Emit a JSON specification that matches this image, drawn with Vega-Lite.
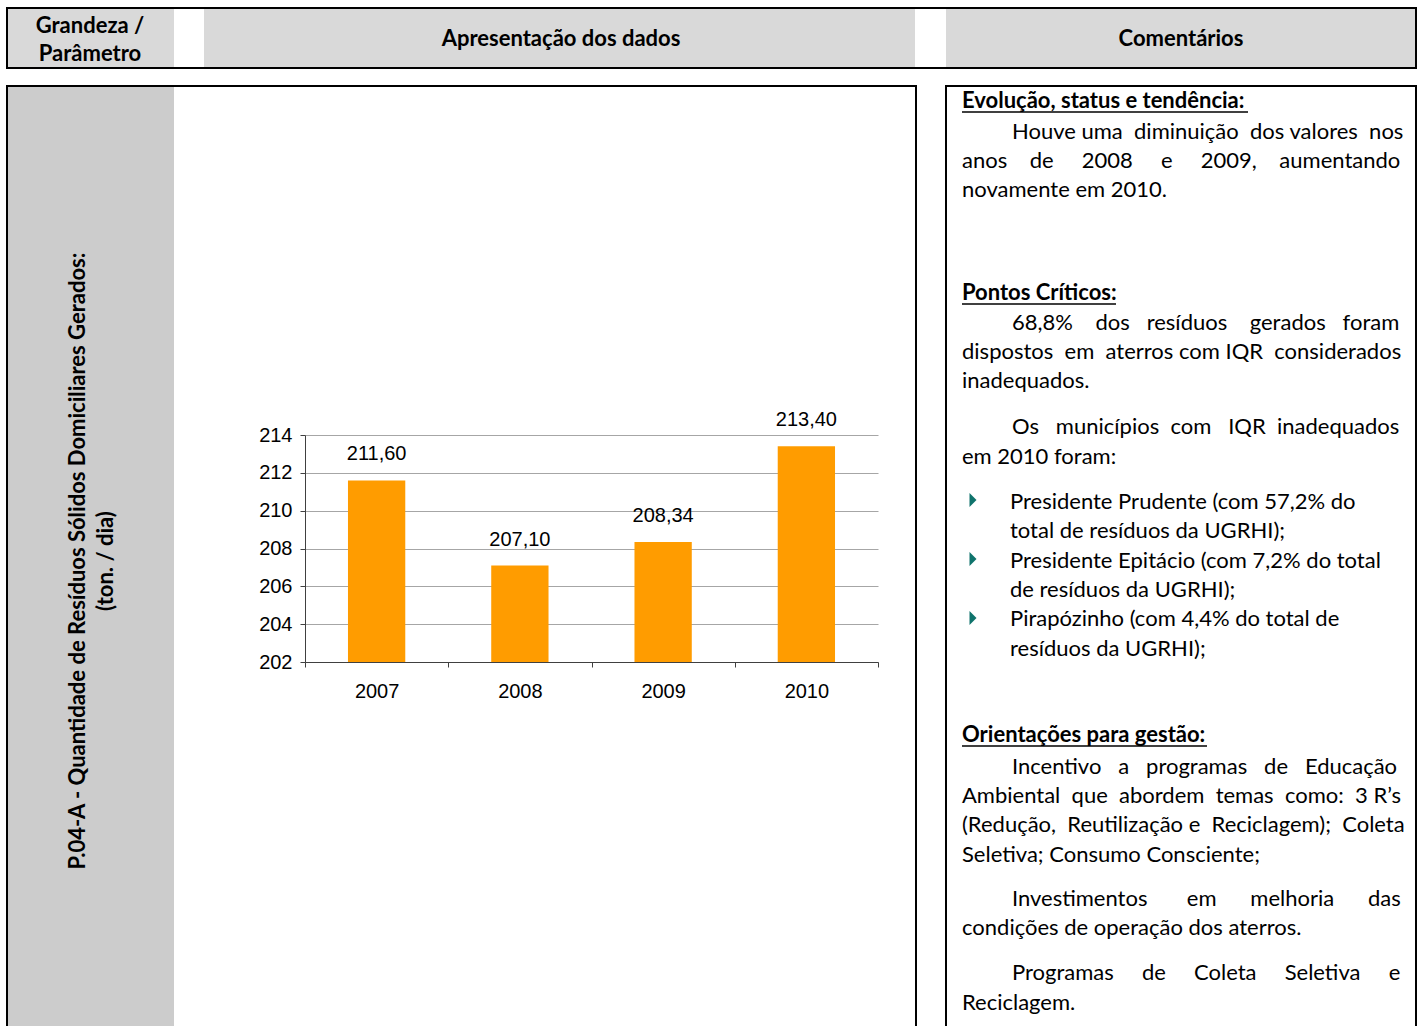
{
  "$schema": "https://vega.github.io/schema/vega-lite/v6.json",
  "width": 1421,
  "height": 1026,
  "autosize": {"type": "none"},
  "padding": 0,
  "background": "white",
  "config": {
    "view": {"stroke": null},
    "locale": {"number": {"decimal": ",", "thousands": ".", "grouping": [3], "currency": ["R$", ""]}},
    "text": {"font": "Lato", "fontSize": 22, "color": "black", "baseline": "alphabetic", "align": "left", "lineHeight": 29.3, "lineBreak": "\n"}
  },
  "layer": [
    {"data": {"values": [{}]}, "mark": {"type": "rect", "fill": "#D9D9D9"}, "encoding": {"x": {"value": 8}, "x2": {"value": 174}, "y": {"value": 9}, "y2": {"value": 67}}},
    {"data": {"values": [{}]}, "mark": {"type": "rect", "fill": "#D9D9D9"}, "encoding": {"x": {"value": 204}, "x2": {"value": 915}, "y": {"value": 9}, "y2": {"value": 67}}},
    {"data": {"values": [{}]}, "mark": {"type": "rect", "fill": "#D9D9D9"}, "encoding": {"x": {"value": 946}, "x2": {"value": 1415}, "y": {"value": 9}, "y2": {"value": 67}}},
    {"data": {"values": [{}]}, "mark": {"type": "rect", "fill": null, "stroke": "black", "strokeWidth": 2}, "encoding": {"x": {"value": 7}, "x2": {"value": 1416}, "y": {"value": 8}, "y2": {"value": 68}}},
    {"data": {"values": [{}]}, "mark": {"type": "rect", "fill": null, "stroke": "black", "strokeWidth": 2}, "encoding": {"x": {"value": 7}, "x2": {"value": 916}, "y": {"value": 86}, "y2": {"value": 1040}}},
    {"data": {"values": [{}]}, "mark": {"type": "rect", "fill": "#CCCCCC"}, "encoding": {"x": {"value": 8}, "x2": {"value": 174}, "y": {"value": 87}, "y2": {"value": 1040}}},
    {"data": {"values": [{}]}, "mark": {"type": "rect", "fill": null, "stroke": "black", "strokeWidth": 2}, "encoding": {"x": {"value": 946}, "x2": {"value": 1416}, "y": {"value": 86}, "y2": {"value": 1040}}},

    {"data": {"values": [{"t": "Grandeza /\nParâmetro"}]}, "mark": {"type": "text", "fontWeight": "bold", "fontSize": 22, "align": "center", "lineHeight": 28}, "encoding": {"text": {"field": "t"}, "x": {"value": 90}, "y": {"value": 33}}},
    {"data": {"values": [{"t": "Apresentação dos dados"}]}, "mark": {"type": "text", "fontWeight": "bold", "fontSize": 22, "align": "center"}, "encoding": {"text": {"field": "t"}, "x": {"value": 561}, "y": {"value": 46}}},
    {"data": {"values": [{"t": "Comentários"}]}, "mark": {"type": "text", "fontWeight": "bold", "fontSize": 22, "align": "center"}, "encoding": {"text": {"field": "t"}, "x": {"value": 1181}, "y": {"value": 46}}},

    {"data": {"values": [{"t": "P.04-A - Quantidade de Resíduos Sólidos Domiciliares Gerados:"}]}, "mark": {"type": "text", "fontWeight": "bold", "fontSize": 22, "align": "center", "baseline": "middle", "angle": 270}, "encoding": {"text": {"field": "t"}, "x": {"value": 78}, "y": {"value": 561}}},
    {"data": {"values": [{"t": "(ton. / dia)"}]}, "mark": {"type": "text", "fontWeight": "bold", "fontSize": 22, "align": "center", "baseline": "middle", "angle": 270}, "encoding": {"text": {"field": "t"}, "x": {"value": 106}, "y": {"value": 561}}},

    {"data": {"values": [{"t": "Evolução, status e tendência:"}]}, "mark": {"type": "text", "fontWeight": "bold"}, "encoding": {"text": {"field": "t"}, "x": {"value": 962}, "y": {"value": 108}}},
    {"data": {"values": [{}]}, "mark": {"type": "rule", "color": "black", "strokeWidth": 1.5}, "encoding": {"x": {"value": 962}, "x2": {"value": 1248}, "y": {"value": 112}}},
    {"data": {"values": [{"t": "Houve uma \u00a0diminuição \u00a0dos valores \u00a0nos"}]}, "mark": {"type": "text"}, "encoding": {"text": {"field": "t"}, "x": {"value": 1012}, "y": {"value": 139}}},
    {"data": {"values": [{"t": "anos \u00a0\u00a0\u00a0de \u00a0\u00a0\u00a0\u00a02008 \u00a0\u00a0\u00a0\u00a0e \u00a0\u00a0\u00a0\u00a02009, \u00a0\u00a0\u00a0aumentando\nnovamente em 2010."}]}, "mark": {"type": "text"}, "encoding": {"text": {"field": "t"}, "x": {"value": 962}, "y": {"value": 168}}},

    {"data": {"values": [{"t": "Pontos Críticos:"}]}, "mark": {"type": "text", "fontWeight": "bold"}, "encoding": {"text": {"field": "t"}, "x": {"value": 962}, "y": {"value": 300}}},
    {"data": {"values": [{}]}, "mark": {"type": "rule", "color": "black", "strokeWidth": 1.5}, "encoding": {"x": {"value": 962}, "x2": {"value": 1116}, "y": {"value": 304}}},
    {"data": {"values": [{"t": "68,8% \u00a0\u00a0\u00a0dos \u00a0\u00a0resíduos \u00a0\u00a0\u00a0gerados \u00a0\u00a0foram"}]}, "mark": {"type": "text"}, "encoding": {"text": {"field": "t"}, "x": {"value": 1012}, "y": {"value": 330}}},
    {"data": {"values": [{"t": "dispostos \u00a0em \u00a0aterros com IQR \u00a0considerados\ninadequados."}]}, "mark": {"type": "text"}, "encoding": {"text": {"field": "t"}, "x": {"value": 962}, "y": {"value": 359}}},
    {"data": {"values": [{"t": "Os \u00a0\u00a0municípios \u00a0com \u00a0\u00a0IQR \u00a0inadequados"}]}, "mark": {"type": "text"}, "encoding": {"text": {"field": "t"}, "x": {"value": 1012}, "y": {"value": 434}}},
    {"data": {"values": [{"t": "em 2010 foram:"}]}, "mark": {"type": "text"}, "encoding": {"text": {"field": "t"}, "x": {"value": 962}, "y": {"value": 464}}},
    {"data": {"values": [{"t": "Presidente Prudente (com 57,2% do\ntotal de resíduos da UGRHI);\nPresidente Epitácio (com 7,2% do total\nde resíduos da UGRHI);\nPirapózinho (com 4,4% do total de\nresíduos da UGRHI);"}]}, "mark": {"type": "text"}, "encoding": {"text": {"field": "t"}, "x": {"value": 1010}, "y": {"value": 509}}},
    {"data": {"values": [{}]}, "mark": {"type": "point", "shape": "M-0.5,-1L0.5,0L-0.5,1Z", "size": 196, "filled": true, "color": "#0F736C", "opacity": 1}, "encoding": {"x": {"value": 973}, "y": {"value": 500}}},
    {"data": {"values": [{}]}, "mark": {"type": "point", "shape": "M-0.5,-1L0.5,0L-0.5,1Z", "size": 196, "filled": true, "color": "#0F736C", "opacity": 1}, "encoding": {"x": {"value": 973}, "y": {"value": 559}}},
    {"data": {"values": [{}]}, "mark": {"type": "point", "shape": "M-0.5,-1L0.5,0L-0.5,1Z", "size": 196, "filled": true, "color": "#0F736C", "opacity": 1}, "encoding": {"x": {"value": 973}, "y": {"value": 618}}},

    {"data": {"values": [{"t": "Orientações para gestão:"}]}, "mark": {"type": "text", "fontWeight": "bold"}, "encoding": {"text": {"field": "t"}, "x": {"value": 962}, "y": {"value": 742}}},
    {"data": {"values": [{}]}, "mark": {"type": "rule", "color": "black", "strokeWidth": 1.5}, "encoding": {"x": {"value": 962}, "x2": {"value": 1207}, "y": {"value": 746}}},
    {"data": {"values": [{"t": "Incentivo \u00a0\u00a0a \u00a0\u00a0programas \u00a0\u00a0de \u00a0\u00a0Educação"}]}, "mark": {"type": "text"}, "encoding": {"text": {"field": "t"}, "x": {"value": 1012}, "y": {"value": 774}}},
    {"data": {"values": [{"t": "Ambiental \u00a0que \u00a0abordem \u00a0temas \u00a0como: \u00a03 R’s\n(Redução, \u00a0Reutilização e \u00a0Reciclagem); \u00a0Coleta\nSeletiva; Consumo Consciente;"}]}, "mark": {"type": "text"}, "encoding": {"text": {"field": "t"}, "x": {"value": 962}, "y": {"value": 803}}},
    {"data": {"values": [{"t": "Investimentos \u00a0\u00a0\u00a0\u00a0\u00a0\u00a0em \u00a0\u00a0\u00a0\u00a0\u00a0melhoria \u00a0\u00a0\u00a0\u00a0\u00a0das"}]}, "mark": {"type": "text"}, "encoding": {"text": {"field": "t"}, "x": {"value": 1012}, "y": {"value": 906}}},
    {"data": {"values": [{"t": "condições de operação dos aterros."}]}, "mark": {"type": "text"}, "encoding": {"text": {"field": "t"}, "x": {"value": 962}, "y": {"value": 935}}},
    {"data": {"values": [{"t": "Programas \u00a0\u00a0\u00a0\u00a0de \u00a0\u00a0\u00a0\u00a0Coleta \u00a0\u00a0\u00a0\u00a0Seletiva \u00a0\u00a0\u00a0\u00a0e"}]}, "mark": {"type": "text"}, "encoding": {"text": {"field": "t"}, "x": {"value": 1012}, "y": {"value": 980}}},
    {"data": {"values": [{"t": "Reciclagem."}]}, "mark": {"type": "text"}, "encoding": {"text": {"field": "t"}, "x": {"value": 962}, "y": {"value": 1010}}},

    {
      "data": {"values": [
        {"ano": "2007", "valor": 211.6},
        {"ano": "2008", "valor": 207.1},
        {"ano": "2009", "valor": 208.34},
        {"ano": "2010", "valor": 213.4}
      ]},
      "layer": [
        {
          "mark": {"type": "bar", "color": "#FF9C00", "width": {"band": 0.4}},
          "encoding": {
            "x": {"field": "ano", "type": "nominal", "title": null,
              "scale": {"range": [305, 878], "paddingInner": 0, "paddingOuter": 0},
              "axis": {"orient": "bottom", "offset": -364, "labelAngle": 0, "labelFont": "Liberation Sans", "labelFontSize": 20, "labelColor": "black", "labelPadding": 14, "domainColor": "#404040", "tickColor": "#404040", "tickSize": 5, "tickBand": "extent", "grid": false}},
            "y": {"field": "valor", "type": "quantitative", "title": null,
              "scale": {"domain": [202, 214], "range": [662, 435], "nice": false, "zero": false},
              "axis": {"orient": "left", "offset": -305, "values": [202, 204, 206, 208, 210, 212, 214], "format": "d", "labelFont": "Liberation Sans", "labelFontSize": 20, "labelColor": "black", "labelPadding": 8, "domainColor": "#404040", "tickColor": "#404040", "tickSize": 5, "grid": true, "gridColor": "#A6A6A6", "gridWidth": 1}},
            "y2": {"datum": 202}
          }
        },
        {
          "mark": {"type": "text", "font": "Liberation Sans", "fontSize": 20, "align": "center", "baseline": "middle", "dy": -26, "lineHeight": 20},
          "encoding": {
            "x": {"field": "ano", "type": "nominal"},
            "y": {"field": "valor", "type": "quantitative"},
            "text": {"field": "valor", "type": "quantitative", "format": ".2f"}
          }
        }
      ]
    }
  ]
}
